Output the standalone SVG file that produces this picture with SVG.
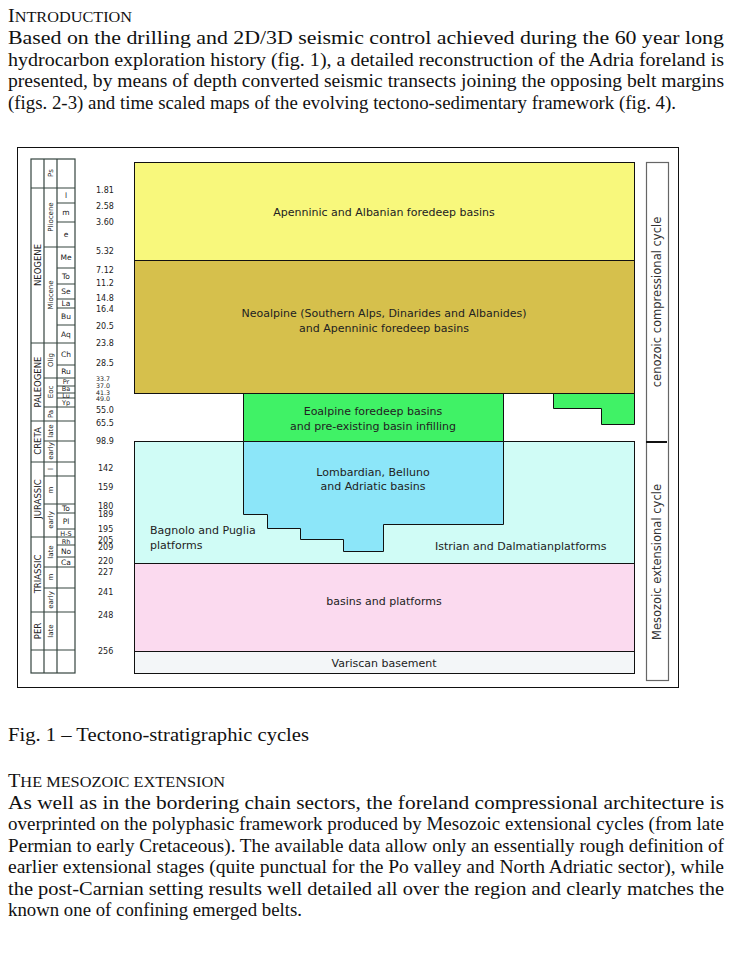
<svg xmlns="http://www.w3.org/2000/svg" width="750" height="961" viewBox="0 0 750 961">
<style>
.body{font-family:"Liberation Serif","Times New Roman",serif;font-size:19px;fill:#111}
.hd{font-family:"Liberation Serif","Times New Roman",serif;fill:#111}
.bx{font-family:"DejaVu Sans",Verdana,sans-serif;font-size:11px;fill:#222}
.age{font-family:"DejaVu Sans",Verdana,sans-serif;font-size:8px;fill:#222}
.ages{font-family:"DejaVu Sans",Verdana,sans-serif;font-size:6.3px;fill:#222}
.c1{font-family:"DejaVu Sans",Verdana,sans-serif;font-size:8.5px;fill:#222}
.c2{font-family:"DejaVu Sans",Verdana,sans-serif;font-size:7px;fill:#222}
.c3{font-family:"DejaVu Sans",Verdana,sans-serif;font-size:7.5px;fill:#222}
.c3s{font-family:"DejaVu Sans",Verdana,sans-serif;font-size:6.5px;fill:#222}
.cl{stroke:#34443f;stroke-width:1.2;fill:none}
.ol{stroke:#111;stroke-width:1}
.cy{font-family:"DejaVu Sans",Verdana,sans-serif;font-size:11.5px;fill:#333}
</style>

<!-- Intro text -->
<g id="intro">
<text class="hd" x="8" y="22" textLength="124" lengthAdjust="spacingAndGlyphs"><tspan font-size="18">I</tspan><tspan font-size="14.5">NTRODUCTION</tspan></text>
<text class="body" x="8" y="44" textLength="716" lengthAdjust="spacingAndGlyphs">Based on the drilling and 2D/3D seismic control achieved during the 60 year long</text>
<text class="body" x="8" y="65.5" textLength="716" lengthAdjust="spacingAndGlyphs">hydrocarbon exploration history (fig. 1), a detailed reconstruction of the Adria foreland is</text>
<text class="body" x="8" y="87" textLength="716" lengthAdjust="spacingAndGlyphs">presented, by means of depth converted seismic transects joining the opposing belt margins</text>
<text class="body" x="8" y="108.5" textLength="668" lengthAdjust="spacingAndGlyphs">(figs. 2-3) and time scaled maps of the evolving tectono-sedimentary framework (fig. 4).</text>
</g>

<!-- Figure frame -->
<rect x="17.5" y="147.5" width="661" height="540" fill="#fff" stroke="#111" stroke-width="1"/>

<!-- Main tectono-sedimentary boxes -->
<g id="apenninic">
<rect x="134.5" y="162.5" width="500" height="98" fill="#F8F87C" class="ol"/>
<text class="bx" x="384" y="216" text-anchor="middle">Apenninic and Albanian foredeep basins</text>
</g>
<g id="neoalpine">
<rect x="134.5" y="260.5" width="500" height="133" fill="#D6C04C" class="ol"/>
<text class="bx" x="384" y="317" text-anchor="middle">Neoalpine (Southern Alps, Dinarides and Albanides)</text>
<text class="bx" x="384" y="332" text-anchor="middle">and Apenninic foredeep basins</text>
</g>
<g id="eoalpine">
<rect x="243.5" y="393.5" width="260" height="48" fill="#40F266" class="ol"/>
<text class="bx" x="373" y="415" text-anchor="middle">Eoalpine foredeep basins</text>
<text class="bx" x="373" y="430" text-anchor="middle">and pre-existing basin infilling</text>
</g>
<g id="eoalpine-east">
<polygon points="553.5,393.5 634.5,393.5 634.5,424.5 601.5,424.5 601.5,408.5 553.5,408.5" fill="#40F266" class="ol"/>
</g>
<g id="platforms">
<rect x="134.5" y="441.5" width="500" height="122" fill="#D0FCF6" class="ol"/>
<text class="bx" x="150" y="534">Bagnolo and Puglia</text>
<text class="bx" x="150" y="549">platforms</text>
<text class="bx" x="435" y="550">Istrian and Dalmatianplatforms</text>
</g>
<g id="lombardian">
<polygon points="243.5,441.5 503.5,441.5 503.5,524.5 383.5,524.5 383.5,551.5 343.5,551.5 343.5,539.5 300.5,539.5 300.5,528.5 267.5,528.5 267.5,514.5 243.5,514.5" fill="#8CE6F9" class="ol"/>
<text class="bx" x="373" y="476" text-anchor="middle">Lombardian, Belluno</text>
<text class="bx" x="373" y="490" text-anchor="middle">and Adriatic basins</text>
</g>
<g id="triassic-basins">
<rect x="134.5" y="563.5" width="500" height="88" fill="#FBDAEF" class="ol"/>
<text class="bx" x="384" y="605" text-anchor="middle">basins and platforms</text>
</g>
<g id="variscan">
<rect x="134.5" y="651.5" width="500" height="22" fill="#F3F6F8" class="ol"/>
<text class="bx" x="384" y="667" text-anchor="middle">Variscan basement</text>
</g>

<!-- Cycles -->
<g id="cycles">
<rect x="646.5" y="162.5" width="22" height="518" fill="none" stroke="#666" stroke-width="1.2"/>
<line x1="646" y1="442" x2="667" y2="442" stroke="#111" stroke-width="2"/>
<text class="cy" transform="translate(661,302) rotate(-90)" text-anchor="middle">cenozoic compressional cycle</text>
<text class="cy" transform="translate(661,562) rotate(-90)" text-anchor="middle">Mesozoic extensional cycle</text>
</g>

<!-- Stratigraphic column -->
<g id="strat-column">
<rect x="31" y="159" width="44" height="514" class="cl"/>
<line x1="44" y1="159" x2="44" y2="673" class="cl"/>
<line x1="57" y1="159" x2="57" y2="673" class="cl"/>
<path class="cl" d="M31 188H75M31 343H75M31 421H75M31 462H75M31 537H75M31 612H75M31 650H75"/>
<path class="cl" d="M44 247H75M44 378H75M44 407H75M44 441H75M44 476H75M44 504H75M44 567H75M44 588H75"/>
<path class="cl" d="M57 203H75M57 222H75M57 268H75M57 284H75M57 299H75M57 308H75M57 325H75M57 365H75M57 386H75M57 393H75M57 398H75M57 513H75M57 529H75M57 545H75M57 557H75"/>
<text class="c1" transform="translate(40.8,265) rotate(-90)" text-anchor="middle">NEOGENE</text>
<text class="c1" transform="translate(40.8,382) rotate(-90)" text-anchor="middle">PALEOGENE</text>
<text class="c1" transform="translate(40.8,441) rotate(-90)" text-anchor="middle">CRETA</text>
<text class="c1" transform="translate(40.8,499) rotate(-90)" text-anchor="middle">JURASSIC</text>
<text class="c1" transform="translate(40.8,574) rotate(-90)" text-anchor="middle">TRIASSIC</text>
<text class="c1" transform="translate(40.8,631) rotate(-90)" text-anchor="middle">PER</text>
<text class="c2" transform="translate(53,173) rotate(-90)" text-anchor="middle">Ps</text>
<text class="c2" transform="translate(53,217) rotate(-90)" text-anchor="middle">Pliocene</text>
<text class="c2" transform="translate(53,295) rotate(-90)" text-anchor="middle">Miocene</text>
<text class="c2" transform="translate(53,360) rotate(-90)" text-anchor="middle">Olig</text>
<text class="c2" transform="translate(53,392) rotate(-90)" text-anchor="middle">Eoc</text>
<text class="c2" transform="translate(53,414) rotate(-90)" text-anchor="middle">Pa</text>
<text class="c2" transform="translate(53,431) rotate(-90)" text-anchor="middle">late</text>
<text class="c2" transform="translate(53,451) rotate(-90)" text-anchor="middle">early</text>
<text class="c2" transform="translate(53,469) rotate(-90)" text-anchor="middle">l</text>
<text class="c2" transform="translate(53,490) rotate(-90)" text-anchor="middle">m</text>
<text class="c2" transform="translate(53,520) rotate(-90)" text-anchor="middle">early</text>
<text class="c2" transform="translate(53,552) rotate(-90)" text-anchor="middle">late</text>
<text class="c2" transform="translate(53,577) rotate(-90)" text-anchor="middle">m</text>
<text class="c2" transform="translate(53,600) rotate(-90)" text-anchor="middle">early</text>
<text class="c2" transform="translate(53,631) rotate(-90)" text-anchor="middle">late</text>
<g text-anchor="middle">
<text class="c3" x="66" y="198">l</text>
<text class="c3" x="66" y="215">m</text>
<text class="c3" x="66" y="237">e</text>
<text class="c3" x="66" y="260">Me</text>
<text class="c3" x="66" y="279">To</text>
<text class="c3" x="66" y="294">Se</text>
<text class="c3" x="66" y="306">La</text>
<text class="c3" x="66" y="319">Bu</text>
<text class="c3" x="66" y="337">Aq</text>
<text class="c3" x="66" y="357">Ch</text>
<text class="c3" x="66" y="374">Ru</text>
<text class="c3s" x="66" y="384">Pr</text>
<text class="c3s" x="66" y="391">Ba</text>
<text class="c3s" x="66" y="397.5">Lu</text>
<text class="c3s" x="66" y="405">Yp</text>
<text class="c3" x="66" y="511">To</text>
<text class="c3" x="66" y="524">Pl</text>
<text class="c3s" x="66" y="535.5">H-S</text>
<text class="c3s" x="66" y="543.5">Rh</text>
<text class="c3" x="66" y="554">No</text>
<text class="c3" x="66" y="565">Ca</text>
</g>
</g>

<!-- Ages -->
<g id="ages">
<text class="age" x="96" y="193">1.81</text>
<text class="age" x="96" y="209">2.58</text>
<text class="age" x="96" y="225">3.60</text>
<text class="age" x="96" y="254">5.32</text>
<text class="age" x="96" y="273">7.12</text>
<text class="age" x="96" y="286">11.2</text>
<text class="age" x="96" y="301">14.8</text>
<text class="age" x="96" y="312">16.4</text>
<text class="age" x="96" y="329">20.5</text>
<text class="age" x="96" y="346">23.8</text>
<text class="age" x="96" y="366">28.5</text>
<text class="ages" x="96" y="381">33.7</text>
<text class="ages" x="96" y="387.5">37.0</text>
<text class="ages" x="96" y="394.5">41.3</text>
<text class="ages" x="96" y="401">49.0</text>
<text class="age" x="96" y="413">55.0</text>
<text class="age" x="96" y="426">65.5</text>
<text class="age" x="96" y="444">98.9</text>
<text class="age" x="98" y="471">142</text>
<text class="age" x="98" y="490">159</text>
<text class="age" x="98" y="508.5">180</text>
<text class="age" x="98" y="516.5">189</text>
<text class="age" x="98" y="532">195</text>
<text class="age" x="98" y="542.5">205</text>
<text class="age" x="98" y="550">209</text>
<text class="age" x="98" y="564">220</text>
<text class="age" x="98" y="575">227</text>
<text class="age" x="98" y="595">241</text>
<text class="age" x="98" y="618">248</text>
<text class="age" x="98" y="654">256</text>
</g>

<!-- Caption and following text -->
<g id="caption">
<text class="body" x="8" y="741" textLength="301" lengthAdjust="spacingAndGlyphs">Fig. 1 – Tectono-stratigraphic cycles</text>
</g>
<g id="mesozoic">
<text class="hd" x="8" y="787" textLength="217" lengthAdjust="spacingAndGlyphs"><tspan font-size="18">T</tspan><tspan font-size="14.5">HE MESOZOIC EXTENSION</tspan></text>
<text class="body" x="8" y="808.5" textLength="716" lengthAdjust="spacingAndGlyphs">As well as in the bordering chain sectors, the foreland compressional architecture is</text>
<text class="body" x="8" y="830" textLength="716" lengthAdjust="spacingAndGlyphs">overprinted on the polyphasic framework produced by Mesozoic extensional cycles (from late</text>
<text class="body" x="8" y="851.5" textLength="716" lengthAdjust="spacingAndGlyphs">Permian to early Cretaceous). The available data allow only an essentially rough definition of</text>
<text class="body" x="8" y="873" textLength="716" lengthAdjust="spacingAndGlyphs">earlier extensional stages (quite punctual for the Po valley and North Adriatic sector), while</text>
<text class="body" x="8" y="894.5" textLength="716" lengthAdjust="spacingAndGlyphs">the post-Carnian setting results well detailed all over the region and clearly matches the</text>
<text class="body" x="8" y="916" textLength="294" lengthAdjust="spacingAndGlyphs">known one of confining emerged belts.</text>
</g>
</svg>
